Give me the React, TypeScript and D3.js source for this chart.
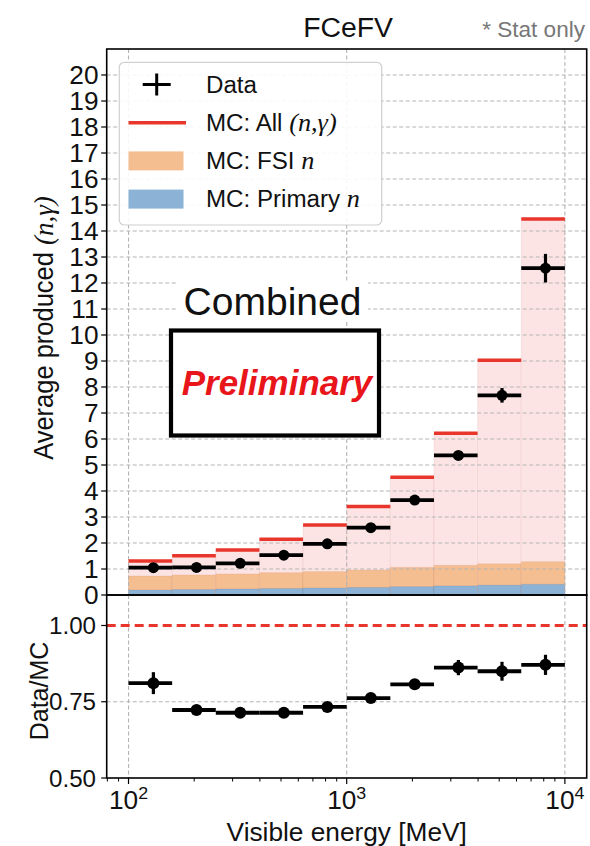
import React from 'react';
import * as d3 from 'd3';

// bin edges (MeV), log spaced 10^2 .. 10^4
const binEdges = [100, 158.5, 251.2, 398.1, 631.0, 1000, 1585, 2512, 3981, 6310, 10000];
// mean visible energy of each bin (where the data point sits)
const meanEnergy = [130, 205, 325, 515, 815, 1290, 2050, 3250, 5150, 8150];

const dataValues = [1.05, 1.06, 1.22, 1.53, 1.97, 2.59, 3.65, 5.37, 7.68, 12.57];
const dataErrors = [0.05, 0.05, 0.05, 0.06, 0.07, 0.08, 0.1, 0.12, 0.28, 0.55];
const mcAll = [1.31, 1.51, 1.73, 2.14, 2.69, 3.4, 4.53, 6.22, 9.03, 14.46];
const mcFsi = [0.73, 0.77, 0.81, 0.86, 0.9, 0.96, 1.06, 1.14, 1.2, 1.28];
const mcPrimary = [0.19, 0.21, 0.23, 0.25, 0.27, 0.29, 0.32, 0.35, 0.38, 0.41];

const ratioValues = [0.811, 0.723, 0.714, 0.714, 0.733, 0.762, 0.807, 0.862, 0.85, 0.871];
const ratioErrors = [0.036, 0.01, 0.008, 0.008, 0.01, 0.012, 0.015, 0.025, 0.031, 0.033];

const topTicks = d3.range(0, 21);
const ratioTicks = [0.5, 0.75, 1.0];
const decadeTicks = [100, 1000, 10000];
const decadeExp = ['2', '3', '4'];

const W = 590;
const H = 846;
const left = 106.7;
const right = 586.7;
const topY = 49;
const midY = 595;
const botY = 778;

const SANS = '"Liberation Sans", Arial, Helvetica, sans-serif';
const SERIF = '"Liberation Serif", "Times New Roman", serif';
const RED = '#e8362c';
const ORANGE = '#f5be91';
const BLUE = '#8cb2d6';
const PINK = '#fde4e4';
const GRID = '#b4b4b4';

// matplotlib text in the picture is slightly stretched sideways
const SX = 1.05;

function Txt({ x, y, size, anchor = 'start', fill = '#111', rotate = 0, children, style }: any) {
  const rot = rotate ? ` rotate(${rotate})` : '';
  return (
    <text
      transform={`translate(${x},${y}) scale(${SX},1)${rot}`}
      fontSize={size}
      fontFamily={SANS}
      textAnchor={anchor}
      fill={fill}
      style={style}
    >
      {children}
    </text>
  );
}

export default function App() {
  const x = d3.scaleLog().domain([Math.pow(10, 1.9), Math.pow(10, 4.1)]).range([left, right]);
  const y = d3.scaleLinear().domain([0, 21]).range([midY, topY]);
  const yr = d3.scaleLinear().domain([0.5, 1.1]).range([botY, midY]);

  const bins = dataValues.map((v, i) => ({
    x0: x(binEdges[i]),
    x1: x(binEdges[i + 1]),
    xm: x(meanEnergy[i]),
    data: v,
    err: dataErrors[i],
    all: mcAll[i],
    fsi: mcFsi[i],
    prim: mcPrimary[i],
    ratio: ratioValues[i],
    rerr: ratioErrors[i],
  }));

  const minorTicks = x.ticks().filter((t) => !decadeTicks.includes(t) && t >= x.domain()[0] && t <= x.domain()[1]);

  const legendRows = [0, 1, 2, 3].map((i) => 84.5 + i * 38.2);

  return (
    <svg width={W} height={H} style={{ position: 'absolute', left: 0, top: 0, background: '#fff' }}>
      <rect x={0} y={0} width={W} height={H} fill="#fff" />

      {/* title */}
      <Txt x={348} y={37.3} size={27} anchor="middle">FCeFV</Txt>
      <Txt x={585} y={37.3} size={21.5} anchor="end" fill="#777">* Stat only</Txt>

      {/* ---------- top panel ---------- */}
      <g>
        {bins.map((b, i) => (
          <g key={'bar' + i}>
            <rect x={b.x0} y={y(b.all)} width={b.x1 - b.x0} height={y(0) - y(b.all)} fill={PINK} stroke="rgba(200,120,120,0.12)" strokeWidth={1} />
            <rect x={b.x0} y={y(b.fsi)} width={b.x1 - b.x0} height={y(0) - y(b.fsi)} fill={ORANGE} stroke="rgba(180,110,60,0.12)" strokeWidth={1} />
            <rect x={b.x0} y={y(b.prim)} width={b.x1 - b.x0} height={y(0) - y(b.prim)} fill={BLUE} stroke="rgba(60,90,130,0.12)" strokeWidth={1} />
          </g>
        ))}

        {/* grid */}
        {topTicks.filter((t) => t > 0).map((t) => (
          <line key={'hg' + t} x1={left} x2={right} y1={y(t)} y2={y(t)} stroke={GRID} strokeWidth={1.1} strokeDasharray="4,2.5" />
        ))}
        {decadeTicks.map((t) => (
          <line key={'vg' + t} x1={x(t)} x2={x(t)} y1={topY} y2={midY} stroke={GRID} strokeWidth={1.1} strokeDasharray="4,2.5" />
        ))}

        {/* MC all */}
        {bins.map((b, i) => (
          <line key={'mc' + i} x1={b.x0} x2={b.x1} y1={y(b.all)} y2={y(b.all)} stroke={RED} strokeWidth={3.5} />
        ))}

        {/* data */}
        {bins.map((b, i) => (
          <g key={'d' + i}>
            <line x1={b.x0} x2={b.x1} y1={y(b.data)} y2={y(b.data)} stroke="#000" strokeWidth={3.8} />
            <line x1={b.xm} x2={b.xm} y1={y(b.data - b.err)} y2={y(b.data + b.err)} stroke="#000" strokeWidth={3.2} />
            <circle cx={b.xm} cy={y(b.data)} r={5.5} fill="#000" />
          </g>
        ))}

        {/* axes frame */}
        <rect x={left} y={topY} width={right - left} height={midY - topY} fill="none" stroke="#000" strokeWidth={1.6} />
        {topTicks.map((t) => (
          <g key={'yt' + t}>
            <line x1={left - 5.5} x2={left} y1={y(t)} y2={y(t)} stroke="#000" strokeWidth={1.2} />
            <Txt x={98.5} y={y(t) + 9} size={25} anchor="end">{t}</Txt>
          </g>
        ))}

        {/* legend */}
        <rect x={119.3} y={62.3} width={262.4} height={162.7} rx={5} fill="#fff" fillOpacity={0.88} stroke="#d0d0d0" strokeWidth={1.2} />
        <line x1={142.7} x2={170.7} y1={legendRows[0]} y2={legendRows[0]} stroke="#000" strokeWidth={3} />
        <line x1={156.7} x2={156.7} y1={legendRows[0] - 11} y2={legendRows[0] + 11} stroke="#000" strokeWidth={3} />
        <line x1={128.5} x2={186} y1={legendRows[1]} y2={legendRows[1]} stroke={RED} strokeWidth={3.5} />
        <rect x={128.5} y={legendRows[2] - 9.5} width={55} height={19} fill={ORANGE} />
        <rect x={128.5} y={legendRows[3] - 9.5} width={55} height={19} fill={BLUE} />
        <Txt x={206} y={legendRows[0] + 8} size={23}>Data</Txt>
        <Txt x={206} y={legendRows[1] + 8} size={23}>
          MC: All <tspan fontFamily={SERIF} fontStyle="italic" fontSize={25}>(n,γ)</tspan>
        </Txt>
        <Txt x={206} y={legendRows[2] + 8} size={23}>
          MC: FSI <tspan fontFamily={SERIF} fontStyle="italic" fontSize={25}>n</tspan>
        </Txt>
        <Txt x={206} y={legendRows[3] + 8} size={23}>
          MC: Primary <tspan fontFamily={SERIF} fontStyle="italic" fontSize={25}>n</tspan>
        </Txt>

        {/* Combined / Preliminary stamp */}
        <rect x={176} y={282} width={192} height={40} fill="#fff" />
        <text x={272.5} y={315} fontSize={39} fontFamily={SANS} textAnchor="middle" fill="#111">Combined</text>
        <rect x={171} y={330.5} width={208} height={105} fill="#fff" stroke="#000" strokeWidth={4.2} />
        <text x={277} y={395} fontSize={35} fontFamily={SANS} fontWeight="bold" fontStyle="italic" textAnchor="middle" fill="#e8151b">Preliminary</text>

        <Txt x={52.5} y={328} size={25.5} anchor="middle" rotate={-90}>
          Average produced <tspan fontFamily={SERIF} fontStyle="italic" fontSize={27}>(n,γ)</tspan>
        </Txt>
      </g>

      {/* ---------- ratio panel ---------- */}
      <g>
        <line x1={left} x2={right} y1={yr(0.75)} y2={yr(0.75)} stroke={GRID} strokeWidth={1.1} strokeDasharray="4,2.5" />
        {decadeTicks.map((t) => (
          <line key={'rvg' + t} x1={x(t)} x2={x(t)} y1={midY} y2={botY} stroke={GRID} strokeWidth={1.1} strokeDasharray="4,2.5" />
        ))}
        <line x1={left} x2={right} y1={yr(1)} y2={yr(1)} stroke={RED} strokeWidth={3} strokeDasharray="9,5" />

        {bins.map((b, i) => (
          <g key={'r' + i}>
            <line x1={b.x0} x2={b.x1} y1={yr(b.ratio)} y2={yr(b.ratio)} stroke="#000" strokeWidth={3.8} />
            <line x1={b.xm} x2={b.xm} y1={yr(b.ratio - b.rerr)} y2={yr(b.ratio + b.rerr)} stroke="#000" strokeWidth={3.2} />
            <circle cx={b.xm} cy={yr(b.ratio)} r={6} fill="#000" />
          </g>
        ))}

        <rect x={left} y={midY} width={right - left} height={botY - midY} fill="none" stroke="#000" strokeWidth={1.6} />
        {ratioTicks.map((t) => (
          <g key={'rt' + t}>
            <line x1={left - 5.5} x2={left} y1={yr(t)} y2={yr(t)} stroke="#000" strokeWidth={1.2} />
            <Txt x={96} y={yr(t) + 8.5} size={23} anchor="end">{d3.format('.2f')(t)}</Txt>
          </g>
        ))}

        {decadeTicks.map((t, i) => (
          <g key={'xt' + t}>
            <line x1={x(t)} x2={x(t)} y1={botY} y2={botY + 6} stroke="#000" strokeWidth={1.2} />
            <Txt x={x(t)} y={809} size={25} anchor="middle">
              10<tspan dy={-10} fontSize={17}>{decadeExp[i]}</tspan>
            </Txt>
          </g>
        ))}
        {minorTicks.map((t) => (
          <line key={'mt' + t} x1={x(t)} x2={x(t)} y1={botY} y2={botY + 3.5} stroke="#000" strokeWidth={1} />
        ))}

        <Txt x={346.7} y={841} size={25} anchor="middle">Visible energy [MeV]</Txt>
        <Txt x={48} y={691} size={25} anchor="middle" rotate={-90}>Data/MC</Txt>
      </g>
    </svg>
  );
}
